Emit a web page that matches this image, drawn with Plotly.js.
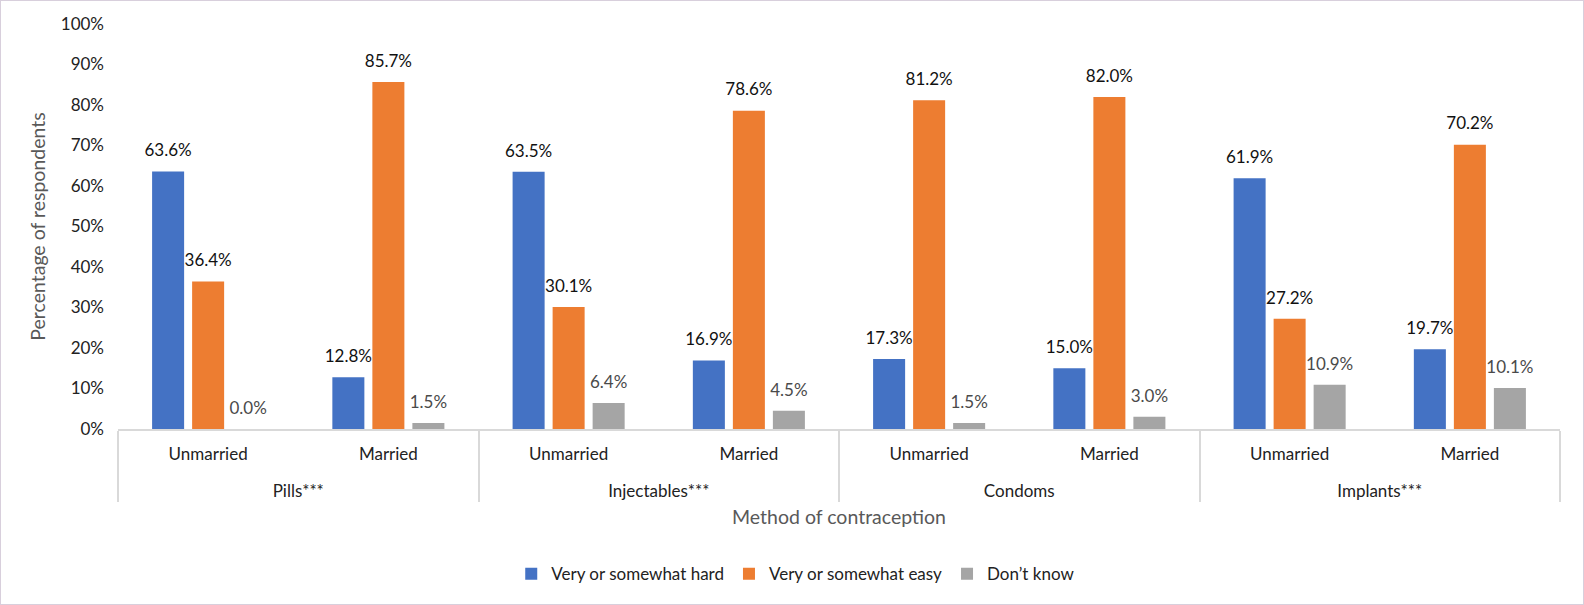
<!DOCTYPE html>
<html>
<head>
<meta charset="utf-8">
<script src="https://cdn.plot.ly/plotly-3.0.1.min.js"></script>
<style>
html,body{margin:0;padding:0;background:#fff;}
#chart{width:1584px;height:605px;box-sizing:border-box;border:1px solid #d8cfdc;}
</style>
</head>
<body>
<div id="chart"></div>
<script>
const methods = ["Pills***","Pills***","Injectables***","Injectables***","Condoms","Condoms","Implants***","Implants***"];
const status = ["Unmarried","Married","Unmarried","Married","Unmarried","Married","Unmarried","Married"];
const hard = [63.6, 12.8, 63.5, 16.9, 17.3, 15.0, 61.9, 19.7];
const easy = [36.4, 85.7, 30.1, 78.6, 81.2, 82.0, 27.2, 70.2];
const dontKnow = [0.0, 1.5, 6.4, 4.5, 1.5, 3.0, 10.9, 10.1];
const seriesNames = ["Very or somewhat hard","Very or somewhat easy","Don\u2019t know"];
const colors = ["#4472C4","#ED7D31","#A5A5A5"];
const labelColors = ["#111111","#111111","#4a4a4a"];
const FONT = "Lato, 'Open Sans', sans-serif";

// an empty second line keeps the group row lower, as in the original two-level axis
const statusLabels = status.map(s => s + "<br><span style='font-size:24px'>\u00a0</span>");
const seriesVals = [hard, easy, dontKnow];

const barTraces = seriesVals.map((vals, i) => ({
  type: "bar",
  name: seriesNames[i],
  x: [methods, statusLabels],
  y: vals,
  marker: {color: colors[i]},
  hoverinfo: "skip"
}));

const labelTraces = seriesVals.map((vals, i) => ({
  type: "scatter",
  mode: "markers+text",
  showlegend: false,
  x: [methods, statusLabels],
  y: vals,
  marker: {size: 16, opacity: 0},
  text: vals.map(v => v.toFixed(1) + "%"),
  textposition: "top center",
  textfont: {family: FONT, size: 17, color: labelColors[i]},
  cliponaxis: false,
  hoverinfo: "skip"
}));

const layout = {
  width: 1582, height: 603,
  margin: {l: 117, r: 23, t: 23, b: 175},
  paper_bgcolor: "#ffffff",
  plot_bgcolor: "#ffffff",
  font: {family: FONT, color: "#222222", size: 17},
  barmode: "group",
  bargap: 0.334,
  bargroupgap: 0.2,
  scattermode: "group",
  scattergap: 0.334,
  showlegend: true,
  legend: {
    orientation: "h",
    x: 0.47, xanchor: "center",
    y: -0.3587, yanchor: "middle",
    font: {family: FONT, size: 17, color: "#222222"},
    itemwidth: 30,
    traceorder: "normal"
  },
  xaxis: {
    type: "multicategory",
    range: [-0.5, 7.5],
    automargin: false,
    showline: true,
    linecolor: "#d9d9d9",
    linewidth: 1.5,
    showdividers: true,
    dividercolor: "#d9d9d9",
    dividerwidth: 1.5,
    ticks: "",
    ticklabelstandoff: 9,
    tickfont: {family: FONT, size: 17, color: "#222222"},
    showgrid: false,
    zeroline: false,
    title: {text: "Method of contraception", font: {family: FONT, size: 19.5, color: "#595959"}, standoff: 10}
  },
  yaxis: {
    automargin: false,
    range: [0, 100],
    tickvals: [0,10,20,30,40,50,60,70,80,90,100],
    ticktext: ["0%","10%","20%","30%","40%","50%","60%","70%","80%","90%","100%"],
    showgrid: false,
    zeroline: false,
    showline: false,
    ticks: "",
    ticklabelstandoff: 13,
    tickfont: {family: FONT, size: 17, color: "#222222"},
    title: {text: "Percentage of respondents", font: {family: FONT, size: 19.5, color: "#595959"}, standoff: 9}
  }
};

Plotly.newPlot("chart", barTraces.concat(labelTraces), layout, {displayModeBar: false, responsive: false});
</script>
</body>
</html>
